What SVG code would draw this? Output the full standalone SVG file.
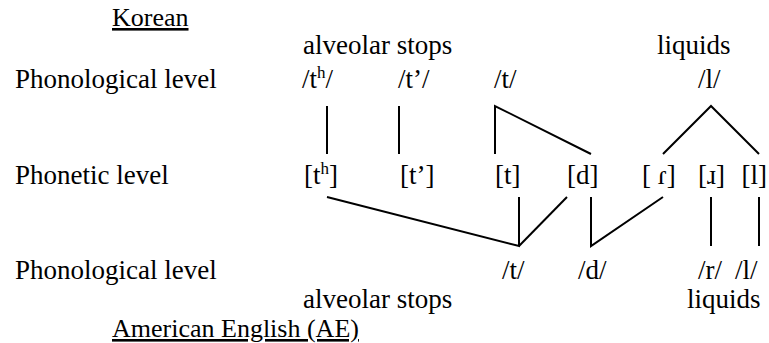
<svg xmlns="http://www.w3.org/2000/svg" width="769" height="343" viewBox="0 0 769 343">
<style>
text{font-family:"Liberation Serif","Times New Roman",serif;font-size:27px;fill:#000}
.sup{font-size:17px}
.ul{text-decoration:underline;font-size:26px}
line,polyline{stroke:#000;stroke-width:2;fill:none}
</style>
<rect width="769" height="343" fill="#fff"/>
<g id="titles">
<text class="ul" x="112" y="26">Korean</text>
<text class="ul" x="112" y="337">American English (AE)</text>
</g>
<g id="levels">
<text x="15" y="88">Phonological level</text>
<text x="15" y="184">Phonetic level</text>
<text x="15" y="279">Phonological level</text>
</g>
<g id="categories">
<text x="303" y="54">alveolar stops</text>
<text x="657" y="54">liquids</text>
<text x="303" y="308">alveolar stops</text>
<text x="687" y="308">liquids</text>
</g>
<g id="korean-phonemes">
<g id="k-th"><text x="302" y="88">/t<tspan class="sup" dy="-10">h</tspan><tspan dy="10">/</tspan></text></g>
<g id="k-tp"><text x="398" y="88">/t’/</text></g>
<g id="k-t"><text x="494" y="88">/t/</text></g>
<g id="k-l"><text x="698" y="88">/l/</text></g>
</g>
<g id="phones">
<g id="p-th"><text x="304" y="184">[t<tspan class="sup" dy="-10">h</tspan><tspan dy="10">]</tspan></text></g>
<g id="p-tp"><text x="400" y="184">[t’]</text></g>
<g id="p-t"><text x="495" y="184">[t]</text></g>
<g id="p-d"><text x="567" y="184">[d]</text></g>
<g id="p-flap"><text x="642" y="184" xml:space="preserve">[ ɾ]</text></g>
<g id="p-approx"><text x="698" y="184">[ɹ]</text></g>
<g id="p-l"><text x="767" y="184" text-anchor="end">[l]</text></g>
</g>
<g id="ae-phonemes">
<g id="e-t"><text x="502" y="279">/t/</text></g>
<g id="e-d"><text x="578" y="279">/d/</text></g>
<g id="e-r"><text x="698" y="279">/r/</text></g>
<g id="e-l"><text x="735" y="279">/l/</text></g>
</g>
<g id="connectors">
<line x1="327" y1="106" x2="327" y2="154"/>
<line x1="399" y1="106" x2="399" y2="154"/>
<polyline points="495,154 495,106 591,154"/>
<polyline points="663,154 711,106 759,154"/>
<polyline points="327,197 519,246 519,197"/>
<line x1="519" y1="246" x2="567" y2="197"/>
<polyline points="591,197 591,246 663,197"/>
<line x1="711" y1="197" x2="711" y2="246"/>
<line x1="759" y1="197" x2="759" y2="246"/>
</g>
</svg>
